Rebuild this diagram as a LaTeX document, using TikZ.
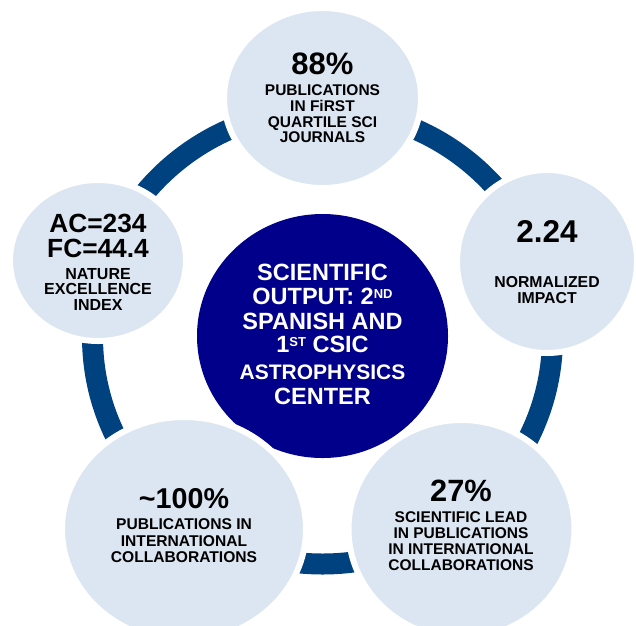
\documentclass[tikz,border=0pt]{standalone}
\usepackage{fontspec}
\setmainfont{Liberation Sans}
\usetikzlibrary{shapes.geometric}
\definecolor{ringblue}{RGB}{0,65,128}
\definecolor{navycore}{RGB}{0,0,138}
\definecolor{bubblefill}{RGB}{220,230,242}
\newcommand{\supx}[1]{\raisebox{6.5pt}{\fontsize{13}{13}\selectfont #1}}
\tikzset{
  ring/.style={draw=ringblue, line width=21pt},
  core/.style={ellipse, fill=navycore, inner sep=0pt, outer sep=0pt},
  bubble/.style={ellipse, fill=bubblefill, draw=white, line width=6pt, inner sep=0pt, outer sep=0pt},
  val/.style={anchor=base, inner sep=0pt, font=\bfseries\fontsize{#1}{#1}\selectfont},
  lbl/.style={anchor=base, inner sep=0pt, font=\bfseries\fontsize{#1}{#1}\selectfont},
  coretxt/.style={anchor=base, inner sep=0pt, text=white, font=\bfseries\fontsize{#1}{#1}\selectfont}
}
\begin{document}
\begin{tikzpicture}[x=1pt, y=-1pt]
\useasboundingbox (0,0) rectangle (636,625);
\draw[ring] (322.5,337) ellipse[x radius=230, y radius=227];
\node[core, minimum width=251pt, minimum height=244pt] (center) at (322.5,336) {};
\node[bubble, minimum width=197pt, minimum height=180pt] (quartile) at (322.5,98) {};
\node[bubble, minimum width=176pt, minimum height=161pt] (nature) at (98,260.5) {};
\node[bubble, minimum width=180pt, minimum height=183pt] (impact) at (547,261.5) {};
\node[bubble, minimum width=244pt, minimum height=224pt] (collab) at (184,529) {};
\node[bubble, minimum width=226pt, minimum height=218pt] (lead) at (461.5,529) {};

\node[coretxt=23.5] (c1) at (322.5,280.5) {SCIENTIFIC};
\node[coretxt=23.5] (c2) at (322.5,304.5) {OUTPUT: 2\supx{ND}};
\node[coretxt=23.5] (c3) at (322.5,329) {SPANISH AND};
\node[coretxt=23.5] (c4) at (322.5,352.5) {1\supx{ST} CSIC};
\node[coretxt=21] (c5) at (322.5,379) {ASTROPHYSICS};
\node[coretxt=23.5] (c6) at (322.5,404.5) {CENTER};

\node[val=31] (quartile-v) at (322.5,74.5) {88\%};
\foreach \t/\yy [count=\i] in {PUBLICATIONS/95.5, IN FiRST/111, QUARTILE SCI/127, JOURNALS/142.5}
  \node[lbl=15.5] (quartile-\i) at (322.5,\yy) {\t};

\node[val=26.3] (nature-v1) at (98,232.5) {AC=234};
\node[val=26.3] (nature-v2) at (98,257.5) {FC=44.4};
\foreach \t/\yy [count=\i] in {NATURE/279, EXCELLENCE/294.5, INDEX/310.5}
  \node[lbl=16] (nature-\i) at (98,\yy) {\t};

\node[val=31.5] (impact-v) at (547,242) {2.24};
\foreach \t/\yy [count=\i] in {NORMALIZED/287.5, IMPACT/303}
  \node[lbl=15.8] (impact-\i) at (547,\yy) {\t};

\node[val=28.7] (collab-v) at (184,508) {\textasciitilde100\%};
\foreach \t/\yy [count=\i] in {PUBLICATIONS IN/529, INTERNATIONAL/546, COLLABORATIONS/562.5}
  \node[lbl=15.6] (collab-\i) at (184,\yy) {\t};

\node[val=30.8] (lead-v) at (461,501.5) {27\%};
\foreach \t/\yy [count=\i] in {SCIENTIFIC LEAD/522.5, IN PUBLICATIONS/538, IN INTERNATIONAL/554.5, COLLABORATIONS/570.5}
  \node[lbl=15.5] (lead-\i) at (461,\yy) {\t};
\end{tikzpicture}
\end{document}
